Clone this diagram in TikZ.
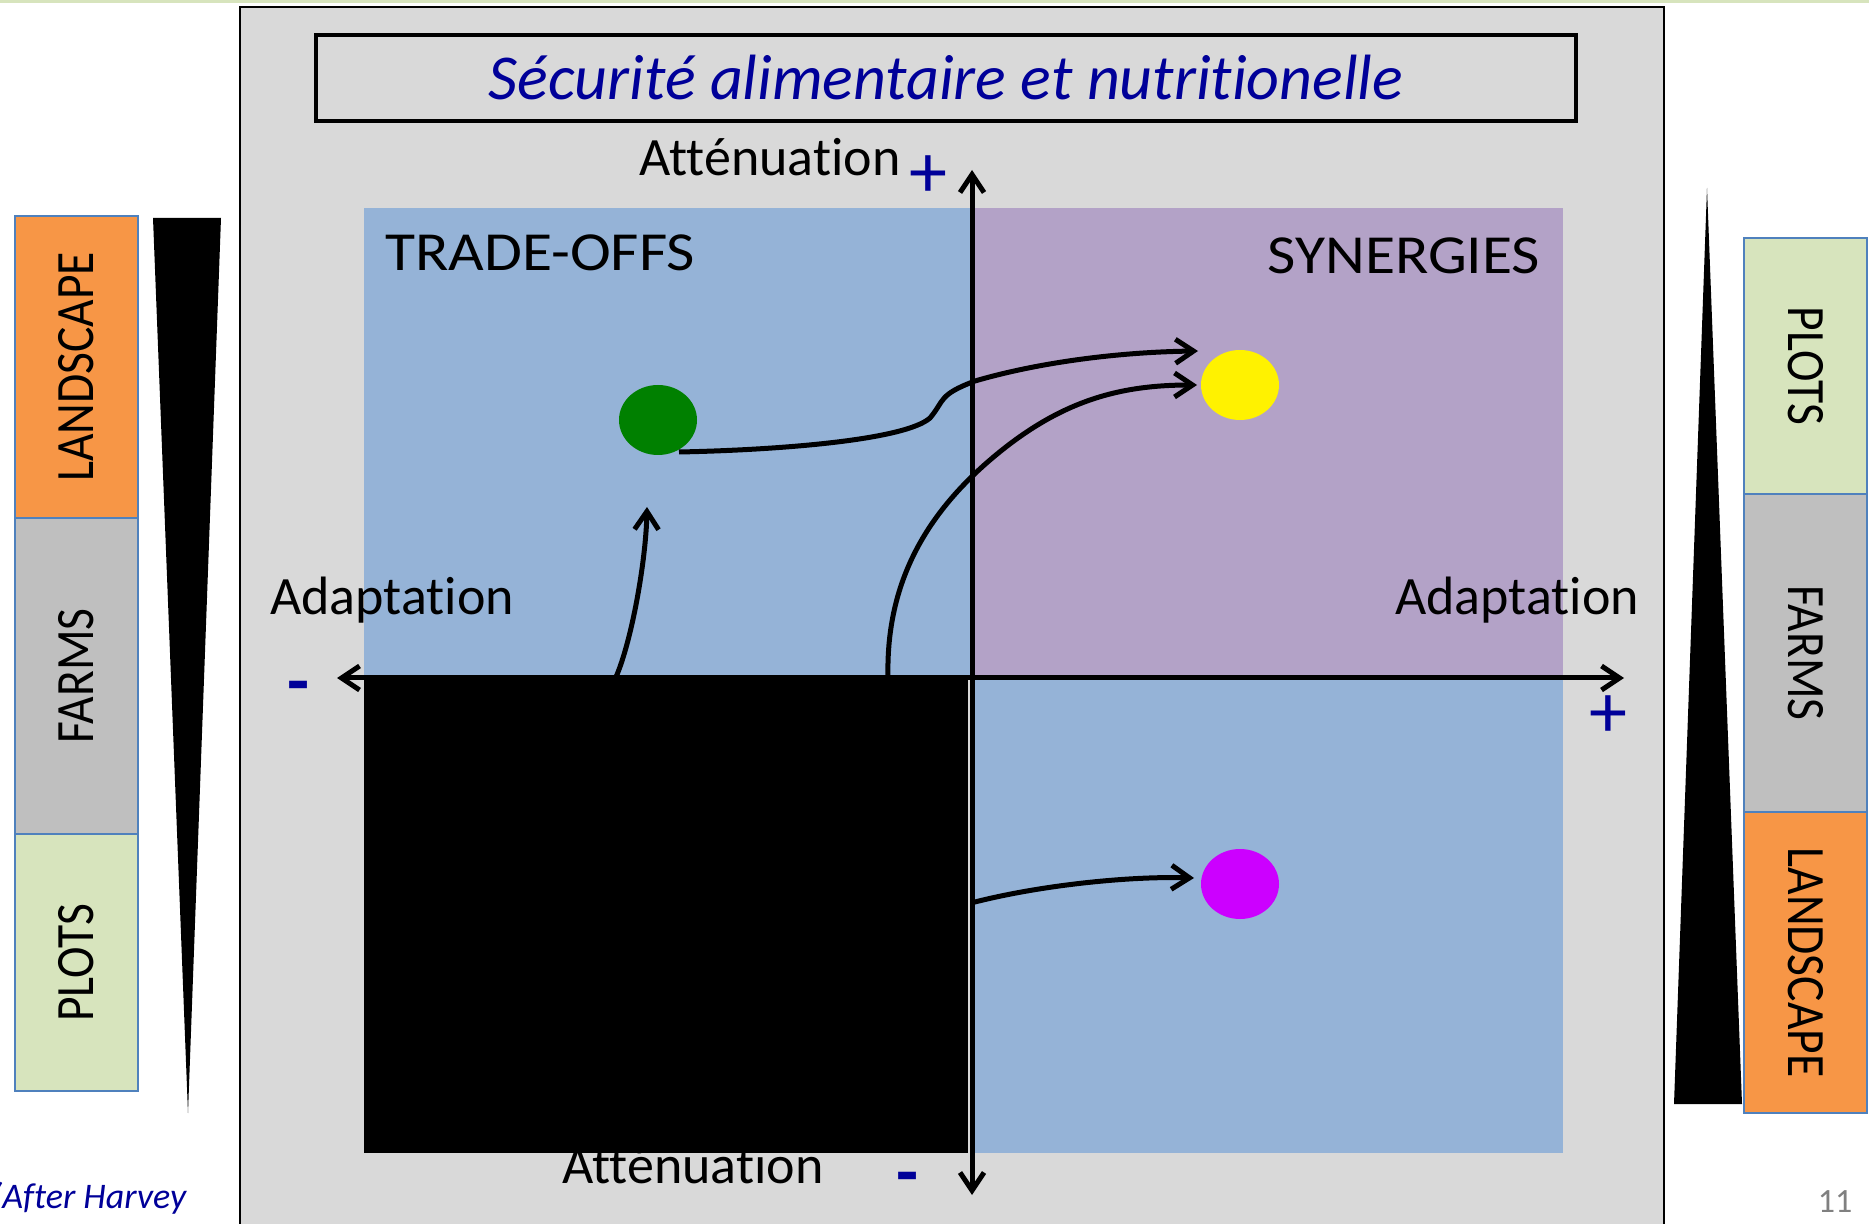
\documentclass[tikz,border=0pt]{standalone}
\usepackage{fontspec}
\setmainfont{Carlito}[Ligatures={NoCommon}]
\usetikzlibrary{arrows.meta,shapes.geometric}
\definecolor{panel}{HTML}{D9D9D9}
\definecolor{qblue}{HTML}{95B3D7}
\definecolor{qpurple}{HTML}{B3A2C7}
\definecolor{orng}{HTML}{F79646}
\definecolor{farmgray}{HTML}{BFBFBF}
\definecolor{plotgreen}{HTML}{D7E4BD}
\definecolor{edgeblue}{HTML}{4F81BD}
\definecolor{txtblue}{HTML}{000099}
\definecolor{dotgreen}{HTML}{008000}
\definecolor{dotmag}{HTML}{CC00FF}
\newcommand{\widecaps}[1]{\scalebox{1.14}[1.02]{#1}}
\newcommand{\narrowcaps}[1]{\scalebox{0.88}[1]{\fontsize{27}{32}\selectfont #1}}
\begin{document}
\begin{tikzpicture}[x=0.5pt,y=-0.5pt,
  lbl/.style={inner sep=0pt,font=\fontsize{27}{32}\selectfont},
  sign/.style={inner sep=0pt,text=txtblue,font=\fontsize{38}{42}\selectfont},
  minus/.style={inner sep=0pt,text=txtblue,font=\fontsize{36}{40}\selectfont\bfseries},
  scalebox/.style={draw=edgeblue,line width=1pt,minimum width=61.5pt,inner sep=0pt},
  axis/.style={line width=2.5pt,{Straight Barb[length=9pt,width=12pt]}-{Straight Barb[length=9pt,width=12pt]}},
  flow/.style={line width=2.5pt,-{Straight Barb[length=9pt,width=12pt]}},
  dot/.style={ellipse,minimum width=39pt,minimum height=35pt,inner sep=0pt}]
\useasboundingbox (0,0) rectangle (1869,1224);
\fill[white] (0,0) rectangle (1869,1224);
\fill[plotgreen] (0,0) rectangle (1869,3);
% main panel
\draw[fill=panel,line width=1.2pt] (240,7) rectangle (1664,1232);
% title
\node[draw,line width=1.6pt,fill=panel,minimum width=630pt,minimum height=43pt,inner sep=0pt] (title) at (946,78)
  {\color{txtblue}\fontsize{32}{38}\selectfont\itshape Sécurité alimentaire et nutritionelle};
% quadrants
\fill[qblue] (364,208) rectangle (970,678);
\fill[qpurple] (970,208) rectangle (1563,678);
\fill[qblue] (970,678) rectangle (1563,1153);
\node[lbl,anchor=base] (attbas) at (693,1183) {Atténuation};
\fill[black] (364,678) rectangle (968,1153);
% labels
\node[lbl] (atthaut) at (770,157) {Atténuation};
\node[sign] (plushaut) at (928,177) {+};
\node[lbl] (tradeoffs) at (540,253) {\widecaps{TRADE-OFFS}};
\node[lbl] (synergies) at (1404,256) {\widecaps{SYNERGIES}};
\node[lbl] (adaptg) at (392,600) {Adaptation};
\node[lbl] (adaptd) at (1517,600) {Adaptation};
\node[minus] (moinsg) at (299,693) {-};
\node[sign] (plusd) at (1608,717) {+};
\node[minus] (moinsb) at (908,1184) {-};
% axes
\coordinate (ytop) at (972,170);
\coordinate (ybot) at (972,1195);
\coordinate (xleft) at (337,678);
\coordinate (xright) at (1624,678);
\draw[axis] (ybot) -- (ytop);
\draw[axis] (xleft) -- (xright);
% dots
\node[dot,fill=dotgreen] (green) at (658,420) {};
\node[dot,fill=yellow] (yellow) at (1240,385) {};
\node[dot,fill=dotmag] (magenta) at (1240,884) {};
% flows
\coordinate (s1) at (616,677);
\coordinate (e1) at (647,507);
\coordinate (s2) at (679,452);
\coordinate (e2) at (1198,351);
\coordinate (s3) at (888,677);
\coordinate (e3) at (1197,385);
\coordinate (s4) at (971,903);
\coordinate (e4) at (1194,878);
\draw[flow] (s1) .. controls (632,640) and (646,560) .. (e1);
\draw[flow] (s2) .. controls (780,450) and (905,440) .. (930,418)
  .. controls (945,400) and (938,395) .. (975,381)
  .. controls (1040,362) and (1120,352) .. (e2);
\draw[flow] (s3) .. controls (886,590) and (920,520) .. (990,460)
  .. controls (1060,400) and (1120,385) .. (e3);
\draw[flow] (s4) .. controls (1040,885) and (1130,876) .. (e4);
% left scale
\node[scalebox,fill=orng,minimum height=151pt,anchor=north west] (landg) at (14,215) {\rotatebox{90}{\narrowcaps{LANDSCAPE}}};
\node[scalebox,fill=farmgray,minimum height=158pt,anchor=north west] (farmg) at (14,517) {\rotatebox{90}{\narrowcaps{FARMS}}};
\node[scalebox,fill=plotgreen,minimum height=128.5pt,anchor=north west] (plotg) at (14,833) {\rotatebox{90}{\narrowcaps{PLOTS}}};
\fill[black] (153,218) -- (221,218) -- (188,1113) -- cycle;
% right scale
\node[scalebox,fill=plotgreen,minimum height=128pt,anchor=north west] (plotd) at (1743,237) {\rotatebox{-90}{\narrowcaps{PLOTS}}};
\node[scalebox,fill=farmgray,minimum height=159pt,anchor=north west] (farmd) at (1743,493) {\rotatebox{-90}{\narrowcaps{FARMS}}};
\node[scalebox,fill=orng,minimum height=150.5pt,anchor=north west] (landd) at (1743,811) {\rotatebox{-90}{\narrowcaps{LANDSCAPE}}};
\fill[black] (1707,188) -- (1742,1104) -- (1674,1104) -- cycle;
% footer
\node[anchor=base west,inner sep=0pt,text=txtblue,font=\fontsize{18}{21}\selectfont\itshape] (source) at (-9,1208) {(After Harvey};
\node[anchor=base,inner sep=0pt,text=gray,font=\fontsize{17}{20}\selectfont] (pagenum) at (1835,1212) {11};
\end{tikzpicture}
\end{document}
